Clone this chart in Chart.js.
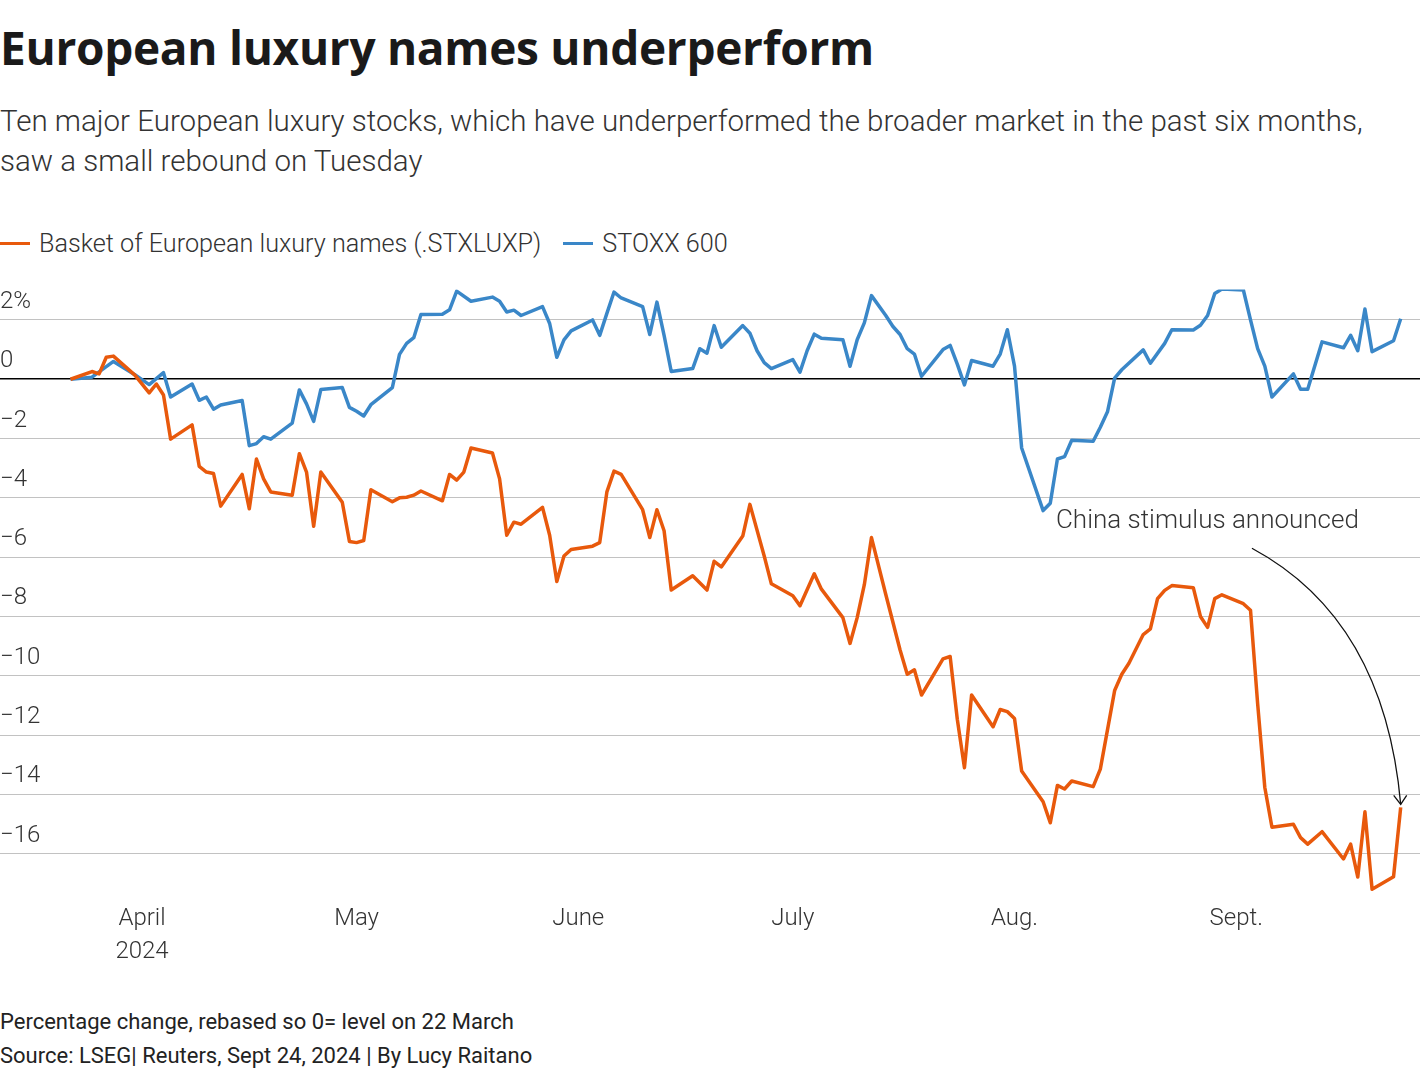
<!DOCTYPE html>
<html>
<head>
<meta charset="utf-8">
<script src="https://cdn.jsdelivr.net/npm/chart.js@4.4.1/dist/chart.umd.min.js"></script>
<style>
  body { margin: 0; background: #fff; font-family: Roboto, "Noto Sans", sans-serif; color: #222; }
  #page { position: relative; width: 1420px; height: 1078px; overflow: hidden; }
  #title { position: absolute; left: 0; top: 24px; font-family: "Open Sans", Roboto, sans-serif; font-size: 46px; line-height: 46px; font-weight: 700; color: #1a1a1a; white-space: nowrap; letter-spacing: -0.3px; }
  #subtitle { position: absolute; left: 0; top: 101px; font-size: 29.5px; line-height: 40px; font-weight: 300; color: #333; white-space: nowrap; }
  #legend { position: absolute; left: 0; top: 226px; height: 34px; display: flex; align-items: center; font-size: 25.2px; font-weight: 300; color: #333; }
  #legend .item { display: flex; align-items: center; margin-right: 22px; }
  #legend .swatch { width: 30px; height: 3px; margin-right: 9px; }
  #chartBox { position: absolute; left: 0; top: 275px; width: 1420px; height: 700px; }
  #footer { position: absolute; left: 0; top: 1005px; font-size: 22px; line-height: 34px; color: #222; white-space: nowrap; }
</style>
</head>
<body>
<div id="page">
  <div id="title">European luxury names underperform</div>
  <div id="subtitle">Ten major European luxury stocks, which have underperformed the broader market in the past six months,<br>saw a small rebound on Tuesday</div>
  <div id="legend"></div>
  <div id="chartBox"><canvas id="chart"></canvas></div>
  <div id="footer">Percentage change, rebased so 0= level on 22 March<br>Source: LSEG| Reuters, Sept 24, 2024 | By Lucy Raitano</div>
</div>
<script>
// days counted from 22 March 2024 (day 0)
const luxDays = [0,3,4,5,6,9,11,12,13,14,17,18,19,20,21,24,25,26,27,28,31,32,33,34,35,38,39,40,41,42,
  45,46,47,48,49,52,53,54,55,56,59,60,61,62,63,66,67,68,69,70,73,74,75,76,77,80,81,82,83,84,
  87,89,90,91,94,95,97,98,101,102,104,105,108,109,110,111,112,114,116,117,118,119,122,123,124,125,126,
  129,130,131,132,133,136,137,138,139,140,143,144,146,147,148,150,151,152,153,154,157,158,159,160,161,
  164,165,166,167,168,171,172,173,175,178,179,180,181,182,185,186];
const luxValues = [0,0.26,0.18,0.74,0.78,0.14,-0.46,-0.16,-0.53,-2.02,-1.54,-2.94,-3.13,-3.18,-4.28,
  -3.21,-4.37,-2.69,-3.36,-3.80,-3.91,-2.51,-3.13,-4.96,-3.13,-4.15,-5.47,-5.51,-5.44,-3.73,
  -4.13,-4.0,-3.98,-3.91,-3.77,-4.10,-3.21,-3.40,-3.13,-2.32,-2.49,-3.36,-5.26,-4.82,-4.89,
  -4.32,-5.26,-6.82,-5.96,-5.74,-5.63,-5.51,-3.80,-3.10,-3.21,-4.40,-5.34,-4.40,-5.11,-7.11,
  -6.63,-7.11,-6.14,-6.33,-5.29,-4.22,-5.96,-6.90,-7.30,-7.64,-6.56,-7.08,
  -8.04,-8.91,-8.04,-6.93,-5.34,-7.26,-9.13,-9.95,-9.80,-10.65,-9.43,-9.35,-11.47,-13.10,-10.65,
  -11.72,-11.14,-11.21,-11.44,-13.21,-14.25,-14.96,-13.70,-13.82,-13.55,-13.74,-13.15,-10.50,-9.95,-9.58,
  -8.61,-8.42,-7.40,-7.12,-6.96,-7.03,-8.0,-8.37,-7.40,-7.27,-7.57,-7.79,-10.95,-13.77,-15.11,
  -15.01,-15.46,-15.68,-15.26,-16.18,-15.68,-16.79,-14.59,-17.2,-16.78,-14.44];

const stoxxDays = [0,3,6,9,11,13,14,17,18,19,20,21,24,25,26,27,28,31,32,33,34,35,38,39,40,41,42,
  45,46,47,48,49,52,53,54,56,59,60,61,62,63,66,67,68,69,70,73,74,75,76,77,80,81,82,83,84,
  87,88,89,90,91,94,95,96,97,98,101,102,103,104,105,108,109,110,111,112,114,115,116,117,118,119,
  122,123,124,125,126,129,130,131,132,133,136,137,138,139,140,143,144,145,146,147,150,151,153,154,
  157,158,159,160,161,164,165,166,167,168,171,172,173,175,178,179,180,181,182,185,186];
const stoxxValues = [0,0.07,0.6,0.15,-0.18,0.22,-0.60,-0.16,-0.71,-0.60,-1.01,-0.87,-0.72,-2.24,-2.17,-1.94,-2.02,
  -1.48,-0.36,-0.83,-1.42,-0.35,-0.28,-0.95,-1.08,-1.24,-0.86,-0.28,0.84,1.21,1.40,2.18,
  2.19,2.34,2.97,2.63,2.77,2.63,2.27,2.33,2.15,2.45,1.88,0.74,1.33,1.63,2.0,1.48,2.22,2.94,2.74,
  2.45,1.51,2.60,1.48,0.26,0.36,1.03,0.88,1.81,1.08,1.81,1.55,0.96,0.56,0.36,0.66,0.24,0.96,1.52,1.38,
  1.33,0.44,1.33,1.90,2.82,2.15,1.78,1.51,1.03,0.85,0.10,1.0,1.14,0.51,-0.19,0.63,
  0.44,0.85,1.67,0.44,-2.32,-4.43,-4.18,-2.69,-2.61,-2.06,-2.09,-1.62,-1.10,0.04,0.32,
  0.99,0.54,1.21,1.67,1.66,1.82,2.15,2.89,3.04,3.01,2.0,1.03,0.44,-0.60,
  0.18,-0.34,-0.34,1.26,1.06,1.48,0.96,2.37,0.93,1.30,2.04];

const monthDays = [10, 40, 71, 101, 132, 163];
const monthLabels = [['April', '2024'], 'May', 'June', 'July', 'Aug.', 'Sept.'];
const yTicks = [2, 0, -2, -4, -6, -8, -10, -12, -14, -16];

const seriesNames = ['Basket of European luxury names (.STXLUXP)', 'STOXX 600'];
const seriesColors = ['#e8590c', '#3a87c8'];

// annotation: label anchor and arrow start/bend, in data units
const noteText = 'China stimulus announced';
const noteAt = { x: 137.8, y: -4.8 };
const arrowFrom = { x: 165.2, y: -5.7 };
const arrowBend = { x: 183.7, y: -8.1 };

const annotationPlugin = {
  id: 'stimulusNote',
  afterDatasetsDraw(chart) {
    const { ctx, scales: { x, y } } = chart;
    const last = luxDays.length - 1;
    const ex = x.getPixelForValue(luxDays[last]);
    const ey = y.getPixelForValue(luxValues[last]) - 3;
    ctx.save();
    ctx.font = '300 26px Roboto';
    ctx.fillStyle = '#333';
    ctx.textBaseline = 'middle';
    ctx.fillText(noteText, x.getPixelForValue(noteAt.x), y.getPixelForValue(noteAt.y));
    ctx.strokeStyle = '#111';
    ctx.lineWidth = 1.3;
    ctx.beginPath();
    ctx.moveTo(x.getPixelForValue(arrowFrom.x), y.getPixelForValue(arrowFrom.y));
    ctx.quadraticCurveTo(x.getPixelForValue(arrowBend.x), y.getPixelForValue(arrowBend.y), ex, ey);
    ctx.stroke();
    ctx.beginPath();
    ctx.moveTo(ex - 7, ey - 9);
    ctx.lineTo(ex, ey);
    ctx.lineTo(ex + 6, ey - 9);
    ctx.stroke();
    ctx.restore();
  }
};

const chart = new Chart(document.getElementById('chart'), {
  type: 'line',
  data: {
    datasets: [{
      label: seriesNames[0],
      data: luxDays.map((d, i) => ({ x: d, y: luxValues[i] })),
      borderColor: seriesColors[0],
      borderWidth: 3.5,
      borderJoinStyle: 'round',
      pointRadius: 0,
      tension: 0
    }, {
      label: seriesNames[1],
      data: stoxxDays.map((d, i) => ({ x: d, y: stoxxValues[i] })),
      borderColor: seriesColors[1],
      borderWidth: 3.5,
      borderJoinStyle: 'round',
      pointRadius: 0,
      tension: 0
    }]
  },
  options: {
    responsive: true,
    maintainAspectRatio: false,
    animation: false,
    layout: { padding: { top: 6, left: 0, right: 0, bottom: 0 } },
    plugins: { legend: { display: false }, tooltip: { enabled: false } },
    scales: {
      x: {
        type: 'linear',
        min: -9.86,
        max: 188.7,
        afterBuildTicks: (s) => { s.ticks = monthDays.map(v => ({ value: v })); },
        afterFit: (s) => { s.height = 76; },
        grid: { display: false },
        border: { display: false },
        ticks: {
          autoSkip: false,
          maxRotation: 0,
          padding: -5,
          color: '#333',
          font: { family: 'Roboto', size: 24, weight: '300', lineHeight: 1.4 },
          callback: (v) => monthLabels[monthDays.indexOf(v)]
        }
      },
      y: {
        min: -17.53,
        max: 3.03,
        afterBuildTicks: (s) => { s.ticks = yTicks.map(v => ({ value: v })); },
        afterFit: (s) => { s.width = 0; },
        border: { display: false },
        grid: {
          drawTicks: false,
          color: (c) => c.tick && c.tick.value === 0 ? '#000' : '#c2c2c2',
          lineWidth: (c) => c.tick && c.tick.value === 0 ? 1.5 : 1
        },
        ticks: {
          mirror: true,
          padding: 0,
          labelOffset: -18,
          color: '#333',
          font: { family: 'Roboto', size: 24, weight: '300' },
          callback: (v) => v === 2 ? '2%' : String(v).replace('-', '\u2212')
        }
      }
    }
  },
  plugins: [annotationPlugin]
});

// legend built from the chart's datasets
const legend = document.getElementById('legend');
chart.data.datasets.forEach(ds => {
  const item = document.createElement('div');
  item.className = 'item';
  const sw = document.createElement('span');
  sw.className = 'swatch';
  sw.style.background = ds.borderColor;
  const tx = document.createElement('span');
  tx.textContent = ds.label;
  item.appendChild(sw);
  item.appendChild(tx);
  legend.appendChild(item);
});
</script>
</body>
</html>
